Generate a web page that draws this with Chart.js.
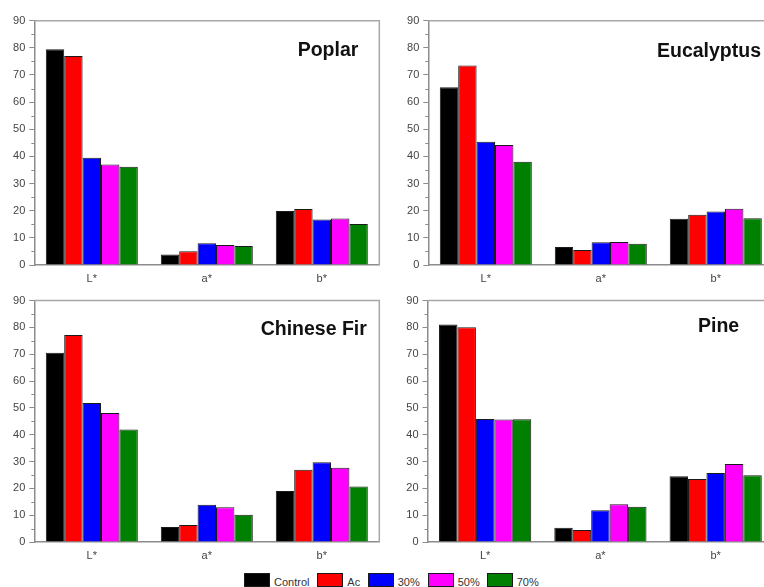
<!DOCTYPE html>
<html>
<head>
<meta charset="utf-8">
<script src="https://cdn.jsdelivr.net/npm/chart.js@4/dist/chart.umd.min.js"></script>
<style>
  html, body { margin: 0; padding: 0; background: #fff; width: 764px; height: 587px; overflow: hidden; position: relative; font-family: 'Liberation Sans', Arial, sans-serif; }
  canvas { position: absolute; }
  .ptitle { position: absolute; font-weight: bold; font-size: 19.5px; line-height: 1; color: #111; white-space: nowrap; }
  .lbox { position: absolute; top: 573px; width: 26px; height: 14px; }
  .ltxt { position: absolute; top: 577px; font-size: 11px; line-height: 1; color: #333; white-space: nowrap; }
</style>
</head>
<body>
<canvas id="c1" width="390" height="290" style="left:0px;top:0px;"></canvas>
<canvas id="c2" width="400" height="290" style="left:382px;top:0px;"></canvas>
<canvas id="c3" width="390" height="270" style="left:0px;top:290px;"></canvas>
<canvas id="c4" width="400" height="270" style="left:382px;top:290px;"></canvas>

<div class="ptitle" style="left:297.7px;top:39.5px;">Poplar</div>
<div class="ptitle" style="left:657px;top:40.5px;">Eucalyptus</div>
<div class="ptitle" style="left:260.7px;top:318.5px;">Chinese Fir</div>
<div class="ptitle" style="left:698px;top:315.5px;">Pine</div>

<div id="legend"></div>

<script>
// ---- data ----
const categories = ['L*', 'a*', 'b*'];
const seriesNames = ['Control', 'Ac', '30%', '50%', '70%'];
const yTicksMin = 0;
const yTicksMax = 90;
const yTickStep = 10;

// values per series: [L*, a*, b*]
const poplarValues = [
  [79.5, 3.9, 19.9],
  [77.0, 5.1, 20.6],
  [39.5, 8.0, 16.8],
  [37.0, 7.4, 17.1],
  [36.2, 7.0, 15.1]
];
const eucalyptusValues = [
  [65.5, 6.6, 17.0],
  [73.5, 5.5, 18.5],
  [45.4, 8.4, 19.7],
  [44.2, 8.5, 20.7],
  [38.0, 7.8, 17.2]
];
const chineseFirValues = [
  [70.6, 5.6, 19.0],
  [77.2, 6.3, 26.9],
  [51.8, 13.9, 29.7],
  [48.1, 13.0, 27.7],
  [41.9, 10.2, 20.7]
];
const pineValues = [
  [81.1, 5.3, 24.5],
  [80.1, 4.5, 23.5],
  [45.9, 11.8, 25.7],
  [45.7, 14.1, 29.1],
  [45.8, 13.1, 24.9]
];

// ---- styles ----
const seriesColors = ['#000000', '#ff0000', '#0000ff', '#ff00ff', '#008000'];
const FONT = "'Liberation Sans', Arial, sans-serif";
const AXIS_COLOR = '#8c8c8c';
const FRAME_COLOR = '#a8a8a8';

const framePlugin = {
  id: 'framePlugin',
  afterDraw(chart) {
    const { ctx, chartArea: a } = chart;
    const ys = chart.scales.y;
    ctx.save();
    // top & right frame
    ctx.strokeStyle = FRAME_COLOR;
    ctx.lineWidth = 1.5;
    ctx.beginPath();
    ctx.moveTo(a.left, a.top);
    ctx.lineTo(a.right, a.top);
    ctx.lineTo(a.right, a.bottom);
    ctx.stroke();
    // minor ticks
    ctx.strokeStyle = AXIS_COLOR;
    ctx.lineWidth = 1;
    for (let v = yTicksMin + yTickStep / 2; v < yTicksMax; v += yTickStep) {
      const y = Math.round(ys.getPixelForValue(v)) + 0.5;
      ctx.beginPath();
      ctx.moveTo(a.left - 3, y);
      ctx.lineTo(a.left, y);
      ctx.stroke();
    }
    ctx.restore();
  }
};

function makeChart(id, values, pad, yWidth, xHeight) {
  const datasets = seriesNames.map((name, i) => ({
    label: name,
    data: values[i],
    backgroundColor: seriesColors[i],
    borderColor: '#1a1a1a',
    borderWidth: 1,
    barPercentage: 1.0,
    categoryPercentage: 0.8
  }));
  return new Chart(document.getElementById(id), {
    type: 'bar',
    data: { labels: categories, datasets },
    plugins: [framePlugin],
    options: {
      responsive: false,
      animation: false,
      devicePixelRatio: 1,
      layout: { padding: pad },
      plugins: { legend: { display: false }, tooltip: { enabled: false }, title: { display: false } },
      scales: {
        x: {
          grid: { display: true, drawOnChartArea: false, drawTicks: false },
          border: { display: true, color: AXIS_COLOR, width: 1.5 },
          ticks: { font: { family: FONT, size: 11 }, color: '#444', padding: 7 },
          afterFit(s) { s.height = xHeight; }
        },
        y: {
          min: yTicksMin,
          max: yTicksMax,
          grid: { display: true, drawOnChartArea: false, drawTicks: true, tickLength: 5, color: AXIS_COLOR, tickColor: AXIS_COLOR, tickWidth: 1 },
          border: { display: true, color: AXIS_COLOR, width: 1.5 },
          ticks: { stepSize: yTickStep, font: { family: FONT, size: 11 }, color: '#444', padding: 4 },
          afterFit(s) { s.width = yWidth; }
        }
      }
    }
  });
}

makeChart('c1', poplarValues,     { left: 0, top: 20.7, right: 10.7, bottom: 0 }, 34.3, 25);
makeChart('c2', eucalyptusValues, { left: 0, top: 20.7, right: 8.7,  bottom: 0 }, 46.3, 25);
makeChart('c3', chineseFirValues, { left: 0, top: 9.3,  right: 10.7, bottom: 0 }, 34.3, 18);
makeChart('c4', pineValues,       { left: 0, top: 10,   right: 8.7,  bottom: 0 }, 45.5, 18);

// ---- legend ----
const legendBoxLeft = [244, 317.3, 367.7, 427.7, 486.7];
const legend = document.getElementById('legend');
seriesNames.forEach((name, i) => {
  const b = document.createElement('div');
  b.className = 'lbox';
  b.style.left = legendBoxLeft[i] + 'px';
  b.style.background = seriesColors[i];
  b.style.border = '1px solid #1a1a1a';
  b.style.boxSizing = 'border-box';
  legend.appendChild(b);
  const t = document.createElement('div');
  t.className = 'ltxt';
  t.style.left = (legendBoxLeft[i] + 30) + 'px';
  t.textContent = name;
  legend.appendChild(t);
});
</script>
</body>
</html>
